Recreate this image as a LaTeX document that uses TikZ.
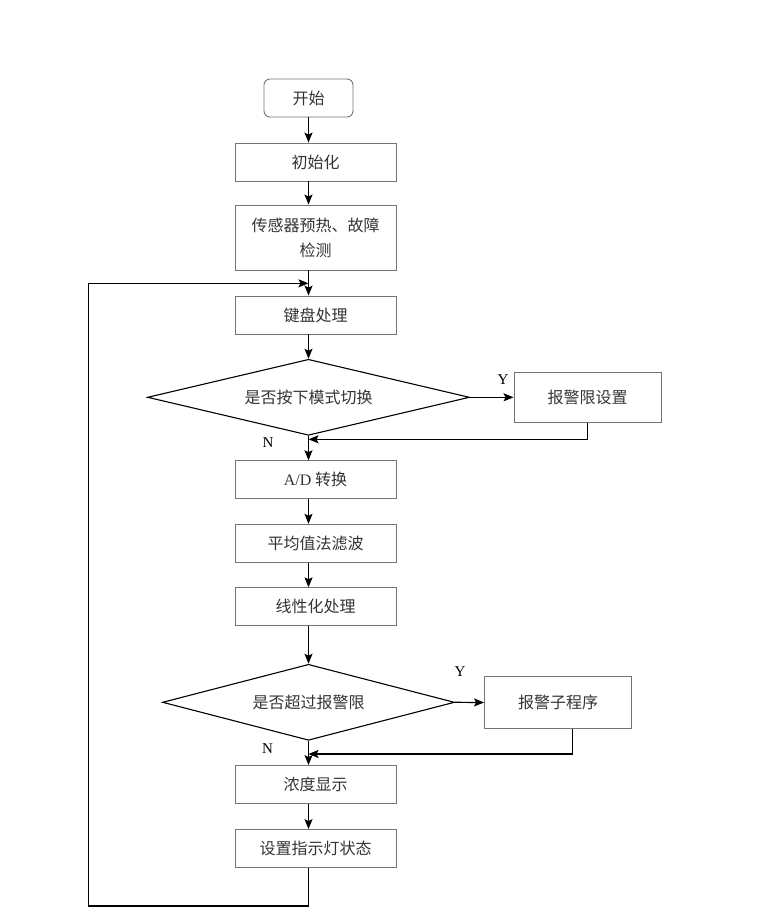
\documentclass[tikz,border=0pt]{standalone}
\usepackage{fontspec}
\setmainfont{Liberation Serif}
\newfontfamily\cjk{Noto Sans CJK SC}
\usetikzlibrary{shapes.geometric,arrows.meta}

\begin{document}
\begin{tikzpicture}[x=1pt,y=-1pt,
  box/.style={rectangle,draw=black!55,line width=.9pt,minimum width=161pt,minimum height=38pt,
    inner sep=2pt,align=center,text=black!80,font=\cjk\fontsize{16}{25}\selectfont},
  sidebox/.style={box,minimum width=147pt,minimum height=50pt},
  startbox/.style={box,rounded corners=6pt,minimum width=89pt},
  decision/.style={diamond,draw=black,line width=1.1pt,aspect=4.2,inner sep=0pt,
    minimum height=76pt,text=black!80,font=\cjk\fontsize{16}{20}\selectfont},
  flow/.style={line width=1.2pt,-{Stealth[length=10pt,width=8pt,inset=2pt]}},
  yn/.style={font=\fontsize{15}{18}\selectfont}]
  \useasboundingbox (0,0) rectangle (767,924);
  \coordinate (spine) at (308.5,0);

  % main column
  \draw(308.5,98) node[startbox] (start) {开始};
  \draw(315.5,162) node[box] (init) {初始化};
  \draw(315.5,237.5) node[box,minimum height=65pt] (sensor) {传感器预热、故障\\检测};
  \draw(315.5,315) node[box] (keys) {键盘处理};
  \draw(308.5,397.3) node[decision,minimum width=322pt] (mode) {是否按下模式切换};
  \draw(587.5,397.3) node[sidebox] (limset) {报警限设置};
  \draw(315.5,479.7) node[box] (ad) {{\rmfamily A/D} 转换};
  \draw(315.5,543.3) node[box] (avg) {平均值法滤波};
  \draw(315.5,606.8) node[box] (lin) {线性化处理};
  \draw(308.5,702.3) node[decision,minimum width=292pt] (over) {是否超过报警限};
  \draw(558,702.5) node[sidebox,minimum height=51.6pt] (alarm) {报警子程序};
  \draw(315.5,784.5) node[box] (show) {浓度显示};
  \draw(315.5,848.5) node[box] (led) {设置指示灯状态};

  % joins
  \coordinate (loopin) at (308.5,283.3);
  \coordinate (join1) at (308.5,439.3);
  \coordinate (join2) at (308.5,754);
  \coordinate (corner) at (88.3,906);

  \draw[flow] (start.south) -- (init.north -| spine);
  \draw[flow] (init.south -| spine) -- (sensor.north -| spine);
  \draw[flow] (sensor.south -| spine) -- (keys.north -| spine);
  \draw[flow] (keys.south -| spine) -- (mode.north);
  \draw[flow] (mode.east) -- (limset.west);
  \draw[flow] (limset.south) |- (join1);
  \draw[flow] (mode.south) -- (ad.north -| spine);
  \draw[flow] (ad.south -| spine) -- (avg.north -| spine);
  \draw[flow] (avg.south -| spine) -- (lin.north -| spine);
  \draw[flow] (lin.south -| spine) -- (over.north);
  \draw[flow] (over.east) -- (alarm.west);
  \draw[flow] ([xshift=14.7pt]alarm.south) |- (join2);
  \draw[flow] (over.south) -- (show.north -| spine);
  \draw[flow] (show.south -| spine) -- (led.north -| spine);
  \draw[flow] (led.south -| spine) |- (corner) |- (loopin);

  \node [yn] (y1) at (503,380) {Y};
  \node [yn] (n1) at (268,443) {N};
  \node [yn] (y2) at (460,672) {Y};
  \node [yn] (n2) at (267.5,749) {N};
\end{tikzpicture}
\end{document}
